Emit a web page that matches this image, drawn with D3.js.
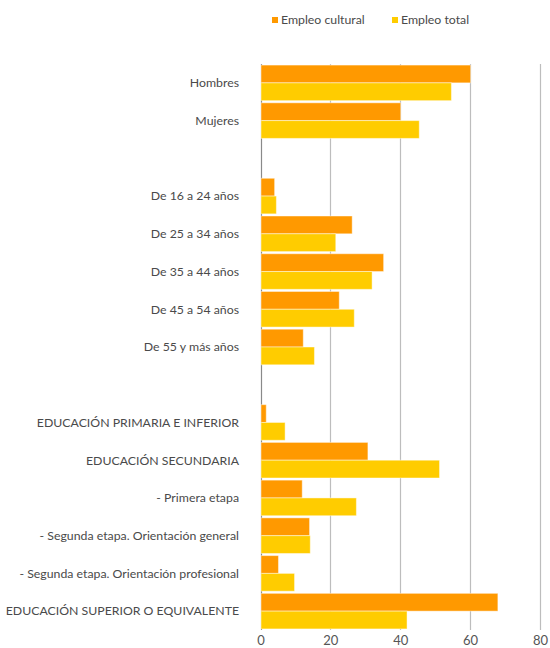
<!DOCTYPE html>
<html>
<head>
<meta charset="utf-8">
<script src="https://cdn.jsdelivr.net/npm/d3@7"></script>
<style>
  body { margin: 0; background: #fff; }
  text { font-family: Lato, "Open Sans", sans-serif; }
</style>
</head>
<body>
<script>
// categories (blank strings are spacer rows)
const categories = [
  "Hombres", "Mujeres", "",
  "De 16 a 24 años", "De 25 a 34 años", "De 35 a 44 años", "De 45 a 54 años", "De 55 y más años", " ",
  "EDUCACIÓN PRIMARIA E INFERIOR", "EDUCACIÓN SECUNDARIA", "- Primera etapa",
  "- Segunda etapa. Orientación general", "- Segunda etapa. Orientación profesional",
  "EDUCACIÓN SUPERIOR O EQUIVALENTE"
];
const empleoCultural = [60, 40, null, 3.9, 26.1, 35.1, 22.4, 12.1, null, 1.5, 30.6, 11.8, 13.9, 5, 67.8];
const empleoTotal    = [54.5, 45.3, null, 4.4, 21.4, 31.8, 26.7, 15.3, null, 6.9, 51.1, 27.3, 14.1, 9.6, 41.8];
const seriesNames = ["Empleo cultural", "Empleo total"];
const xTicks = [0, 20, 40, 60, 80];

const colors = ["#ff9900", "#ffcc00"];

let width = 550, height = 648;
let margin = { top: 64, bottom: 18, left: 260.5, right: 10 };

let svg = d3.select('body')
  .append('svg')
    .attr('width', width)
    .attr('height', height);

let xScale = d3.scaleLinear()
  .domain([0, 80])
  .range([margin.left, 540]);

let yScale = d3.scaleBand()
  .domain(categories)
  .range([margin.top, 630]);

let inner = d3.scaleBand()
  .domain([0, 1])
  .range([0, yScale.bandwidth()])
  .paddingOuter(0.06);

// gridlines
svg.append('g')
  .selectAll('line')
  .data(xTicks)
  .enter()
  .append('line')
    .attr('x1', d => Math.round(xScale(d)) + 0.5)
    .attr('x2', d => Math.round(xScale(d)) + 0.5)
    .attr('y1', margin.top)
    .attr('y2', 630)
    .attr('stroke', d => d === 0 ? '#8a8a8a' : '#bdbdbd')
    .attr('stroke-width', 1.2);

// bars
const series = [empleoCultural, empleoTotal];
series.forEach((vals, s) => {
  svg.append('g')
    .selectAll('rect')
    .data(categories.map((c, i) => ({ c: c, v: vals[i] })).filter(d => d.v !== null))
    .enter()
    .append('rect')
      .attr('x', xScale(0) + 0.5)
      .attr('y', d => yScale(d.c) + inner(s))
      .attr('height', inner.bandwidth())
      .attr('width', d => xScale(d.v) - xScale(0))
      .attr('fill', colors[s])
      .attr('stroke', 'rgba(255,255,255,0.45)')
      .attr('stroke-width', 1);
});

// category labels
svg.append('g')
  .selectAll('text')
  .data(categories.filter(c => c.trim() !== ''))
  .enter()
  .append('text')
    .attr('x', 239)
    .attr('y', d => yScale(d) + yScale.bandwidth() / 2)
    .attr('dy', '0.35em')
    .attr('text-anchor', 'end')
    .style('font-size', '12.3px')
    .style('fill', '#4a4a4a')
    .text(d => d);

// x axis tick labels
let xAxis = svg.append('g')
  .attr('transform', `translate(0,631)`)
  .call(d3.axisBottom(xScale).tickValues(xTicks).tickSize(0).tickPadding(5));
xAxis.select('.domain').remove();
xAxis.selectAll('text')
  .style('font-size', '13px')
  .style('font-family', 'Lato, "Open Sans", sans-serif')
  .style('fill', '#555');

// legend
let legendX = [272, 392];
let legend = svg.append('g');
seriesNames.forEach((n, i) => {
  legend.append('rect')
    .attr('x', legendX[i])
    .attr('y', 17)
    .attr('width', 6)
    .attr('height', 6)
    .attr('fill', colors[i]);
  legend.append('text')
    .attr('x', legendX[i] + 9)
    .attr('y', 20)
    .attr('dy', '0.35em')
    .style('font-size', '12.3px')
    .style('fill', '#4a4a4a')
    .text(n);
});
</script>
</body>
</html>
